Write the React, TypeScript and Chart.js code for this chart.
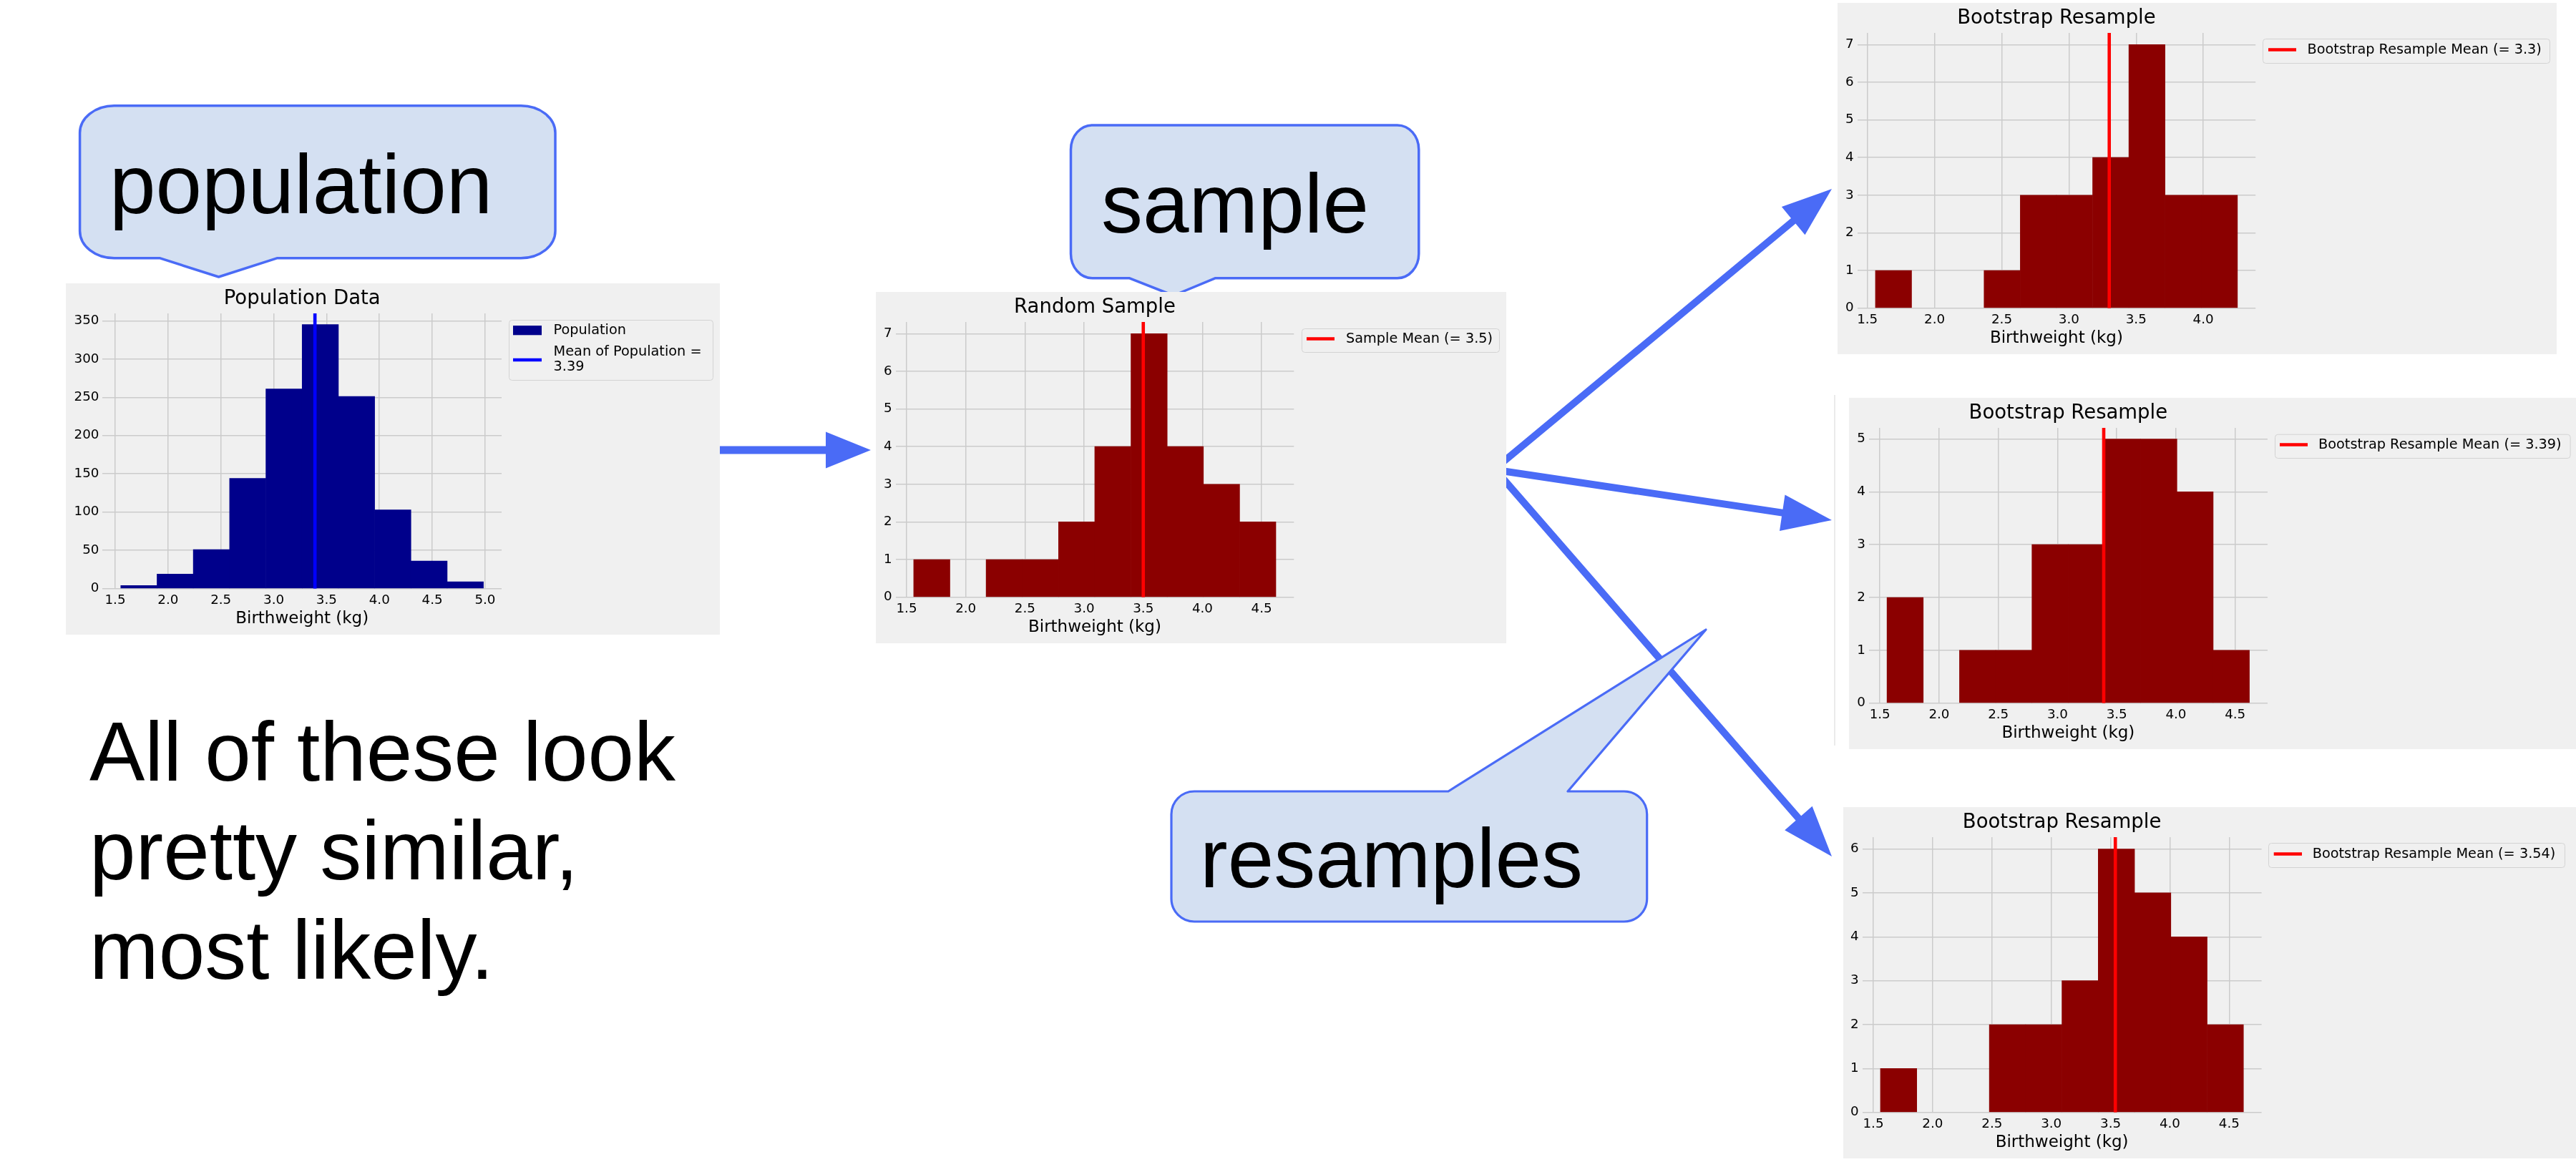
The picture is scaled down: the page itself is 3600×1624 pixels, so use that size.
import React, { useEffect, useRef } from "react";
import { Chart, registerables } from "chart.js";

Chart.register(...registerables);
Chart.defaults.font.family = "'DejaVu Sans', sans-serif";

// ---------------- DATA ----------------
const popBinEdges = [1.553, 1.896, 2.239, 2.582, 2.926, 3.269, 3.612, 3.955, 4.298, 4.641, 4.984];
const popCounts = [4, 19, 51, 144, 261, 345, 251, 103, 36, 9];
const popMean = 3.39;
const popXTicks = [1.5, 2.0, 2.5, 3.0, 3.5, 4.0, 4.5, 5.0];
const popYTicks = [0, 50, 100, 150, 200, 250, 300, 350];

const sampleBinEdges = [1.56, 1.866, 2.172, 2.478, 2.784, 3.09, 3.396, 3.702, 4.008, 4.314, 4.62];
const sampleCounts = [1, 0, 1, 1, 2, 4, 7, 4, 3, 2];
const sampleMean = 3.5;
const sampleXTicks = [1.5, 2.0, 2.5, 3.0, 3.5, 4.0, 4.5];
const sampleYTicks = [0, 1, 2, 3, 4, 5, 6, 7];

const resample1BinEdges = [1.56, 1.829, 2.099, 2.368, 2.638, 2.907, 3.176, 3.446, 3.715, 3.985, 4.254];
const resample1Counts = [1, 0, 0, 1, 3, 3, 4, 7, 3, 3];
const resample1Mean = 3.3;
const resample1XTicks = [1.5, 2.0, 2.5, 3.0, 3.5, 4.0];
const resample1YTicks = [0, 1, 2, 3, 4, 5, 6, 7];

const resample2BinEdges = [1.56, 1.866, 2.172, 2.478, 2.784, 3.09, 3.396, 3.702, 4.008, 4.314, 4.62];
const resample2Counts = [2, 0, 1, 1, 3, 3, 5, 5, 4, 1];
const resample2Mean = 3.39;
const resample2XTicks = [1.5, 2.0, 2.5, 3.0, 3.5, 4.0, 4.5];
const resample2YTicks = [0, 1, 2, 3, 4, 5];

const resample3BinEdges = [1.56, 1.866, 2.172, 2.478, 2.784, 3.09, 3.396, 3.702, 4.008, 4.314, 4.62];
const resample3Counts = [1, 0, 0, 2, 2, 3, 6, 5, 4, 2];
const resample3Mean = 3.54;
const resample3XTicks = [1.5, 2.0, 2.5, 3.0, 3.5, 4.0, 4.5];
const resample3YTicks = [0, 1, 2, 3, 4, 5, 6];

const xAxisLabel = "Birthweight (kg)";

// ---------------- STYLE / LAYOUT ----------------
const FONT = "'DejaVu Sans', sans-serif";
const SLIDE_FONT = "'Liberation Sans', Arial, sans-serif";
const BLUE = "#4a6bf6";
const CALLOUT_FILL = "#d4e0f2";
const GRID = "#cbcbcb";
const BG = "#f0f0f0";

type LegendItem = { kind: "patch" | "line"; color: string; y: number; texts: string[]; textYs: number[] };
type LegendSpec = { frame: [number, number, number, number]; hx0: number; hx1: number; tx: number; items: LegendItem[] };

type HistCfg = {
  x: number; y: number; w: number; h: number;
  plotLeft: number; plotRight: number;
  xMin: number; xMax: number; yMax: number;
  edges: number[]; counts: number[]; mean: number;
  xTicks: number[]; yTicks: number[];
  barColor: string; lineColor: string; title: string;
  legend: LegendSpec;
};

const PLOT_TOP = 42;
const PLOT_BOTTOM = 426.7;
const TITLE_CENTER = 22;
const TICK_SIZE = 18.3;
const TITLE_SIZE = 27.5;
const XLABEL_SIZE = 23;
const XLABEL_CENTER = 469;
const XTICK_CENTER = 443;
const LEGEND_SIZE = 19.3;

const charts: HistCfg[] = [
  {
    x: 92, y: 396, w: 914, h: 491, plotLeft: 51.4, plotRight: 609,
    xMin: 1.381, xMax: 5.156, yMax: 359.6,
    edges: popBinEdges, counts: popCounts, mean: popMean, xTicks: popXTicks, yTicks: popYTicks,
    barColor: "#00008b", lineColor: "#0000ff", title: "Population Data",
    legend: {
      frame: [619, 51, 904, 135], hx0: 625, hx1: 665, tx: 681.6,
      items: [
        { kind: "patch", color: "#00008b", y: 65.7, texts: ["Population"], textYs: [66] },
        { kind: "line", color: "#0000ff", y: 107, texts: ["Mean of Population =", String(popMean)], textYs: [96, 117] },
      ],
    },
  },
  {
    x: 1224, y: 408, w: 881, h: 491, plotLeft: 27.6, plotRight: 584.3,
    xMin: 1.407, xMax: 4.773, yMax: 7.31,
    edges: sampleBinEdges, counts: sampleCounts, mean: sampleMean, xTicks: sampleXTicks, yTicks: sampleYTicks,
    barColor: "#8b0000", lineColor: "#ff0000", title: "Random Sample",
    legend: {
      frame: [595, 51, 871, 84], hx0: 602, hx1: 641, tx: 657,
      items: [{ kind: "line", color: "#ff0000", y: 65.5, texts: [`Sample Mean (= ${sampleMean})`], textYs: [65.5] }],
    },
  },
  {
    x: 2568, y: 4, w: 1005, h: 491, plotLeft: 27.6, plotRight: 584.2,
    xMin: 1.425, xMax: 4.389, yMax: 7.31,
    edges: resample1BinEdges, counts: resample1Counts, mean: resample1Mean, xTicks: resample1XTicks, yTicks: resample1YTicks,
    barColor: "#8b0000", lineColor: "#ff0000", title: "Bootstrap Resample",
    legend: {
      frame: [594, 50, 995, 84], hx0: 602, hx1: 641, tx: 656.5,
      items: [{ kind: "line", color: "#ff0000", y: 65.5, texts: [`Bootstrap Resample Mean (= ${resample1Mean})`], textYs: [65.5] }],
    },
  },
  {
    x: 2584, y: 556, w: 1016, h: 491, plotLeft: 27.8, plotRight: 584.9,
    xMin: 1.407, xMax: 4.773, yMax: 5.21,
    edges: resample2BinEdges, counts: resample2Counts, mean: resample2Mean, xTicks: resample2XTicks, yTicks: resample2YTicks,
    barColor: "#8b0000", lineColor: "#ff0000", title: "Bootstrap Resample",
    legend: {
      frame: [595, 50.7, 1007.6, 84], hx0: 602, hx1: 641, tx: 656,
      items: [{ kind: "line", color: "#ff0000", y: 65.5, texts: [`Bootstrap Resample Mean (= ${resample2Mean})`], textYs: [65.5] }],
    },
  },
  {
    x: 2576, y: 1128, w: 1024, h: 491, plotLeft: 26.6, plotRight: 584.6,
    xMin: 1.407, xMax: 4.773, yMax: 6.27,
    edges: resample3BinEdges, counts: resample3Counts, mean: resample3Mean, xTicks: resample3XTicks, yTicks: resample3YTicks,
    barColor: "#8b0000", lineColor: "#ff0000", title: "Bootstrap Resample",
    legend: {
      frame: [594, 50, 1008, 84], hx0: 601.7, hx1: 641, tx: 655.7,
      items: [{ kind: "line", color: "#ff0000", y: 65.5, texts: [`Bootstrap Resample Mean (= ${resample3Mean})`], textYs: [65.5] }],
    },
  },
];

function makeLegendPlugin(spec: LegendSpec) {
  return {
    id: "mplLegend",
    afterDraw(chart: any) {
      const ctx: CanvasRenderingContext2D = chart.ctx;
      ctx.save();
      const [l, t, r, b] = spec.frame;
      ctx.beginPath();
      (ctx as any).roundRect(l + 0.5, t + 0.5, r - l, b - t, 4);
      ctx.fillStyle = BG;
      ctx.fill();
      ctx.lineWidth = 1;
      ctx.strokeStyle = "#d3d3d3";
      ctx.stroke();
      for (const it of spec.items) {
        if (it.kind === "patch") {
          ctx.fillStyle = it.color;
          ctx.fillRect(spec.hx0, it.y - 6.6, spec.hx1 - spec.hx0, 13.2);
        } else {
          ctx.beginPath();
          ctx.strokeStyle = it.color;
          ctx.lineWidth = 4.6;
          ctx.lineCap = "butt";
          ctx.moveTo(spec.hx0, it.y);
          ctx.lineTo(spec.hx1, it.y);
          ctx.stroke();
        }
        ctx.fillStyle = "#000";
        ctx.font = `${LEGEND_SIZE}px ${FONT}`;
        ctx.textBaseline = "middle";
        ctx.textAlign = "left";
        it.texts.forEach((s, i) => ctx.fillText(s, spec.tx, it.textYs[i]));
      }
      ctx.restore();
    },
  };
}

function HistChart({ cfg }: { cfg: HistCfg }) {
  const ref = useRef<HTMLCanvasElement>(null);
  useEffect(() => {
    const centers = cfg.counts.map((_, i) => (cfg.edges[i] + cfg.edges[i + 1]) / 2);
    const hX = XLABEL_CENTER - PLOT_BOTTOM + (XLABEL_SIZE * 1.2) / 2;
    const chart = new Chart(ref.current!, {
      type: "bar",
      data: {
        datasets: [
          {
            type: "line",
            data: [
              { x: cfg.mean, y: 0 },
              { x: cfg.mean, y: cfg.yMax },
            ],
            borderColor: cfg.lineColor,
            borderWidth: 4.6,
            borderCapStyle: "butt",
            pointRadius: 0,
            order: 0,
          } as any,
          {
            type: "bar",
            data: centers.map((c, i) => ({ x: c, y: cfg.counts[i] === 0 ? null : cfg.counts[i] })),
            backgroundColor: cfg.barColor,
            borderWidth: 0,
            barPercentage: 1,
            categoryPercentage: 1,
            order: 1,
          } as any,
        ],
      },
      options: {
        animation: false,
        responsive: false,
        maintainAspectRatio: false,
        events: [],
        layout: {
          padding: { left: 0, top: 0, right: cfg.w - cfg.plotRight, bottom: cfg.h - PLOT_BOTTOM - hX },
        },
        plugins: {
          legend: { display: false },
          tooltip: { enabled: false },
          title: {
            display: true,
            text: cfg.title,
            color: "#000",
            fullSize: false,
            font: { size: TITLE_SIZE, family: FONT, weight: "normal" as any, lineHeight: 1.2 },
            padding: {
              top: TITLE_CENTER - (TITLE_SIZE * 1.2) / 2,
              bottom: PLOT_TOP - TITLE_CENTER - (TITLE_SIZE * 1.2) / 2,
            },
          },
        },
        scales: {
          x: {
            type: "linear",
            min: cfg.xMin,
            max: cfg.xMax,
            bounds: "data",
            offset: false,
            grid: { color: GRID, lineWidth: 1.5, drawTicks: false, offset: false },
            border: { display: false },
            ticks: {
              color: "#000",
              font: { size: TICK_SIZE, family: FONT },
              padding: XTICK_CENTER - PLOT_BOTTOM - (TICK_SIZE * 1.2) / 2,
              autoSkip: false,
              maxRotation: 0,
              minRotation: 0,
              callback: (v: any) => Number(v).toFixed(1),
            },
            title: {
              display: true,
              text: xAxisLabel,
              color: "#000",
              font: { size: XLABEL_SIZE, family: FONT },
              padding: 0,
            },
            afterBuildTicks: (s: any) => {
              s.ticks = cfg.xTicks.map((v) => ({ value: v }));
            },
            afterFit: (s: any) => {
              s.height = hX;
            },
          },
          y: {
            type: "linear",
            min: 0,
            max: cfg.yMax,
            bounds: "data",
            grid: { color: GRID, lineWidth: 1.5, drawTicks: false },
            border: { display: false },
            ticks: {
              color: "#000",
              font: { size: TICK_SIZE, family: FONT },
              padding: 5,
              callback: (v: any) => String(v),
            },
            afterBuildTicks: (s: any) => {
              s.ticks = cfg.yTicks.map((v) => ({ value: v }));
            },
            afterFit: (s: any) => {
              s.width = cfg.plotLeft;
            },
          },
        },
      } as any,
      plugins: [makeLegendPlugin(cfg.legend)],
    });
    return () => chart.destroy();
  }, [cfg]);
  return (
    <canvas
      ref={ref}
      width={cfg.w}
      height={cfg.h}
      style={{ position: "absolute", left: cfg.x, top: cfg.y, width: cfg.w, height: cfg.h, background: BG, zIndex: 2 }}
    />
  );
}

function arrowPoints(x0: number, y0: number, x1: number, y1: number, w: number, L: number, hw: number) {
  const dx = x1 - x0, dy = y1 - y0, len = Math.hypot(dx, dy);
  const ux = dx / len, uy = dy / len, px = -uy, py = ux;
  const bx = x1 - ux * L, by = y1 - uy * L;
  const pts = [
    [x0 + (px * w) / 2, y0 + (py * w) / 2],
    [bx + (px * w) / 2, by + (py * w) / 2],
    [bx + px * hw, by + py * hw],
    [x1, y1],
    [bx - px * hw, by - py * hw],
    [bx - (px * w) / 2, by - (py * w) / 2],
    [x0 - (px * w) / 2, y0 - (py * w) / 2],
  ];
  return pts.map((p) => `${p[0].toFixed(1)},${p[1].toFixed(1)}`).join(" ");
}

function roundedCallout(L: number, T: number, R: number, B: number, rx: number, ry: number, tail: { side: "top" | "bottom"; a: number; tip: [number, number]; b: number }) {
  const arc = (x: number, y: number) => `A ${rx} ${ry} 0 0 1 ${x} ${y}`;
  let d = `M ${L + rx} ${T} `;
  if (tail.side === "top") d += `H ${tail.a} L ${tail.tip[0]} ${tail.tip[1]} L ${tail.b} ${T} `;
  d += `H ${R - rx} ${arc(R, T + ry)} V ${B - ry} ${arc(R - rx, B)} `;
  if (tail.side === "bottom") d += `H ${tail.b} L ${tail.tip[0]} ${tail.tip[1]} L ${tail.a} ${B} `;
  d += `H ${L + rx} ${arc(L, B - ry)} V ${T + ry} ${arc(L + rx, T)} Z`;
  return d;
}

export default function App() {
  return (
    <div style={{ position: "absolute", left: 0, top: 0, width: 3600, height: 1624, overflow: "hidden", background: "#fff" }}>
      <svg width={3600} height={1624} style={{ position: "absolute", left: 0, top: 0, zIndex: 1 }}>
        {/* arrows */}
        <polygon points={arrowPoints(990, 629, 1217, 629, 10.7, 63, 25.5)} fill={BLUE} />
        <polygon points={arrowPoints(2095, 650.3, 2560, 264, 10, 70, 25.5)} fill={BLUE} />
        <polygon points={arrowPoints(2095, 657.5, 2560, 727, 10, 70, 25.5)} fill={BLUE} />
        <polygon points={arrowPoints(2095, 662.5, 2560, 1197, 10, 71, 25.5)} fill={BLUE} />
        {/* callouts */}
        <path
          d={roundedCallout(111.6, 147.7, 776, 360.7, 48, 38, { side: "bottom", a: 223, tip: [305.6, 387], b: 387.7 })}
          fill={CALLOUT_FILL}
          stroke={BLUE}
          strokeWidth={3.5}
          strokeLinejoin="round"
        />
        <path
          d={roundedCallout(1496.5, 175, 1982.8, 388.7, 30, 34, { side: "bottom", a: 1578, tip: [1640, 413], b: 1698.7 })}
          fill={CALLOUT_FILL}
          stroke={BLUE}
          strokeWidth={3.5}
          strokeLinejoin="round"
        />
        <path
          d={roundedCallout(1637, 1106, 2301.7, 1288, 32, 32, { side: "top", a: 2024, tip: [2384, 880], b: 2191 })}
          fill={CALLOUT_FILL}
          stroke={BLUE}
          strokeWidth={3.2}
          strokeLinejoin="round"
        />
        <text x={153} y={298} fontFamily={SLIDE_FONT} fontSize={116} fill="#000">population</text>
        <text x={1539} y={325} fontFamily={SLIDE_FONT} fontSize={116} fill="#000">sample</text>
        <text x={1677} y={1240} fontFamily={SLIDE_FONT} fontSize={116} fill="#000">resamples</text>
        <text fontFamily={SLIDE_FONT} fontSize={116} fill="#000">
          <tspan x={125} y={1090.7}>All of these look</tspan>
          <tspan x={125} y={1229}>pretty similar,</tspan>
          <tspan x={125} y={1367.7}>most likely.</tspan>
        </text>
        <line x1={2564} y1={552} x2={2564} y2={1042} stroke="#e4e4e4" strokeWidth={1.5} />
      </svg>
      {charts.map((c, i) => (
        <HistChart key={i} cfg={c} />
      ))}
    </div>
  );
}
